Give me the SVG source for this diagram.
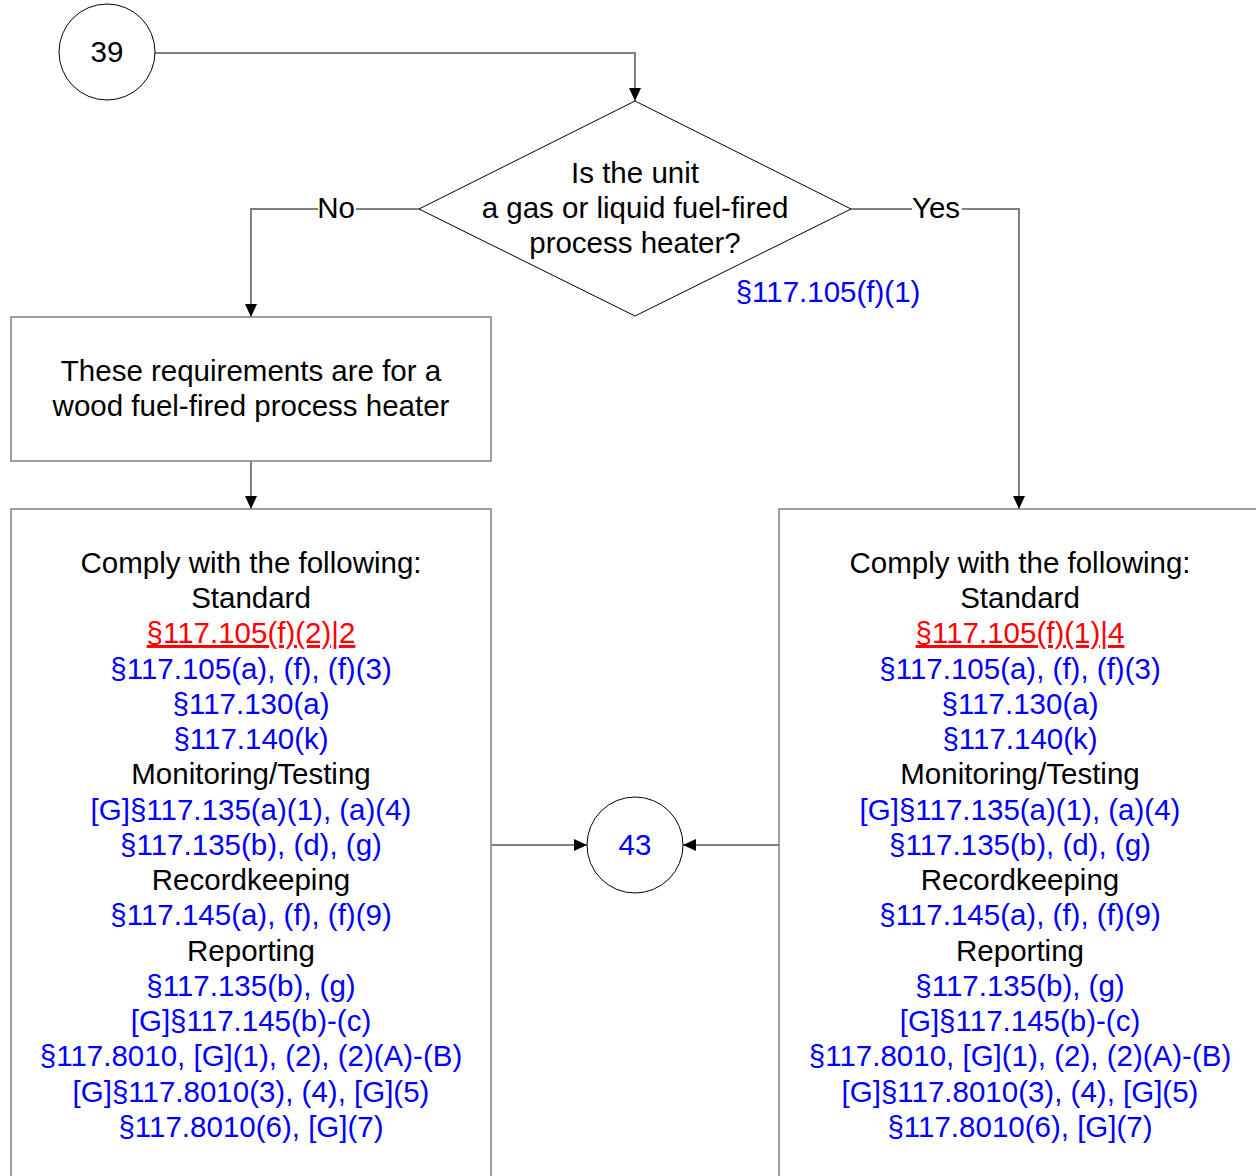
<svg xmlns="http://www.w3.org/2000/svg" width="1256" height="1176" viewBox="0 0 1256 1176">
<style>
text{font-family:"Liberation Sans",Arial,sans-serif;font-size:29.5px;text-anchor:middle;fill:#000}
.b{fill:#0000ff}
.r{fill:#ff0000;text-decoration:underline}
.shape{fill:#fff;stroke:#000;stroke-width:1}
.box{fill:#fff;stroke:#808080;stroke-width:1.5}
.conn{fill:none;stroke:#808080;stroke-width:2}
</style>
<defs>
<marker id="ah" markerWidth="13" markerHeight="12" refX="13" refY="6" orient="auto" markerUnits="userSpaceOnUse">
<path d="M0,0 L13,6 L0,12 Z" fill="#000"/>
</marker>
</defs>
<g id="connectors">
<polyline class="conn" points="155,53 635,53 635,101" marker-end="url(#ah)"/>
<polyline class="conn" points="419,209 251,209 251,317" marker-end="url(#ah)"/>
<polyline class="conn" points="851,209 1019,209 1019,509" marker-end="url(#ah)"/>
<polyline class="conn" points="251,461 251,509" marker-end="url(#ah)"/>
<polyline class="conn" points="491,845 587,845" marker-end="url(#ah)"/>
<polyline class="conn" points="779,845 683,845" marker-end="url(#ah)"/>
<rect x="318" y="194" width="38" height="30" fill="#fff"/>
<text x="336" y="218">No</text>
<rect x="912" y="194" width="50" height="30" fill="#fff"/>
<text x="936" y="218">Yes</text>
</g>
<g id="n39">
<circle class="shape" cx="107" cy="52" r="48"/>
<text x="107" y="62">39</text>
</g>
<g id="decision">
<polygon class="shape" points="635,101 851,209 635,316 419,209"/>
<text x="635" y="183">Is the unit</text>
<text x="635" y="218">a gas or liquid fuel-fired</text>
<text x="635" y="253">process heater?</text>
<text class="b" x="828" y="302">§117.105(f)(1)</text>
</g>
<g id="wood">
<rect class="box" x="11" y="317" width="480" height="144"/>
<text x="251" y="381">These requirements are for a</text>
<text x="251" y="416">wood fuel-fired process heater</text>
</g>
<g id="left">
<rect class="box" x="11" y="509" width="480" height="700"/>
<text x="251" y="573">Comply with the following:</text>
<text x="251" y="608">Standard</text>
<text class="r" x="251" y="643">§117.105(f)(2)|2</text>
<text class="b" x="251" y="679">§117.105(a), (f), (f)(3)</text>
<text class="b" x="251" y="714">§117.130(a)</text>
<text class="b" x="251" y="749">§117.140(k)</text>
<text x="251" y="784">Monitoring/Testing</text>
<text class="b" x="251" y="820">[G]§117.135(a)(1), (a)(4)</text>
<text class="b" x="251" y="855">§117.135(b), (d), (g)</text>
<text x="251" y="890">Recordkeeping</text>
<text class="b" x="251" y="925">§117.145(a), (f), (f)(9)</text>
<text x="251" y="961">Reporting</text>
<text class="b" x="251" y="996">§117.135(b), (g)</text>
<text class="b" x="251" y="1031">[G]§117.145(b)-(c)</text>
<text class="b" x="251" y="1066">§117.8010, [G](1), (2), (2)(A)-(B)</text>
<text class="b" x="251" y="1102">[G]§117.8010(3), (4), [G](5)</text>
<text class="b" x="251" y="1137">§117.8010(6), [G](7)</text>
</g>
<g id="right">
<rect class="box" x="779" y="509" width="480" height="700"/>
<text x="1020" y="573">Comply with the following:</text>
<text x="1020" y="608">Standard</text>
<text class="r" x="1020" y="643">§117.105(f)(1)|4</text>
<text class="b" x="1020" y="679">§117.105(a), (f), (f)(3)</text>
<text class="b" x="1020" y="714">§117.130(a)</text>
<text class="b" x="1020" y="749">§117.140(k)</text>
<text x="1020" y="784">Monitoring/Testing</text>
<text class="b" x="1020" y="820">[G]§117.135(a)(1), (a)(4)</text>
<text class="b" x="1020" y="855">§117.135(b), (d), (g)</text>
<text x="1020" y="890">Recordkeeping</text>
<text class="b" x="1020" y="925">§117.145(a), (f), (f)(9)</text>
<text x="1020" y="961">Reporting</text>
<text class="b" x="1020" y="996">§117.135(b), (g)</text>
<text class="b" x="1020" y="1031">[G]§117.145(b)-(c)</text>
<text class="b" x="1020" y="1066">§117.8010, [G](1), (2), (2)(A)-(B)</text>
<text class="b" x="1020" y="1102">[G]§117.8010(3), (4), [G](5)</text>
<text class="b" x="1020" y="1137">§117.8010(6), [G](7)</text>
</g>
<g id="n43">
<circle class="shape" cx="635" cy="845" r="48"/>
<text class="b" x="635" y="855">43</text>
</g>
</svg>
